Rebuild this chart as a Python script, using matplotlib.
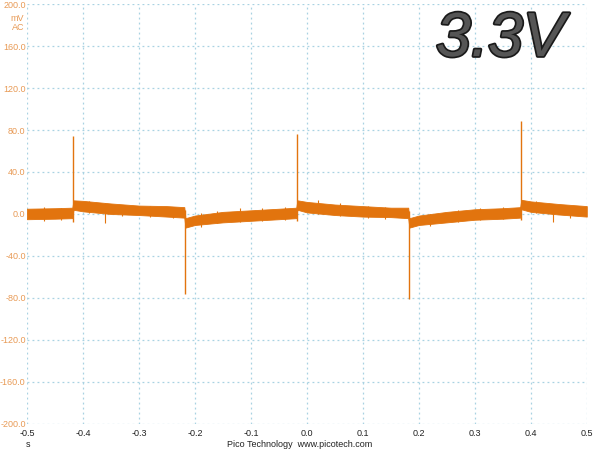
import matplotlib
matplotlib.use("Agg")
from matplotlib import pyplot as plt
import matplotlib.patheffects as pe
import numpy as np

plt.rcParams["font.family"] = ["Liberation Sans", "DejaVu Sans"]

# trace: slow level (mV) at key times (s)
level_t = [-0.500, -0.450, -0.419, -0.417, -0.400, -0.350, -0.300, -0.250, -0.219,
           -0.217, -0.200, -0.150, -0.100, -0.050, -0.019, -0.017, 0.000, 0.050,
           0.100, 0.150, 0.181, 0.183, 0.200, 0.250, 0.300, 0.350, 0.381, 0.383,
           0.400, 0.450, 0.500]
level_mv = [0.0, 0.5, 1.0, 8.5, 7.5, 5.0, 3.5, 2.5, 1.5,
            -8.5, -6.0, -3.0, -1.5, 0.0, 1.0, 8.5, 6.5, 4.0,
            2.5, 1.5, 1.0, -8.5, -6.0, -3.0, -0.5, 0.5, 1.5, 9.0,
            7.0, 4.5, 2.5]
band_mv = [5.0, 5.0, 5.0, 4.5, 5.0, 5.0, 4.5, 5.0, 5.0,
           4.5, 4.5, 5.0, 5.0, 5.0, 5.0, 4.5, 5.0, 5.0,
           5.0, 4.5, 5.0, 4.5, 4.5, 5.0, 5.0, 5.0, 5.0, 4.5,
           5.0, 5.0, 5.0]

# switching spikes
spike_t = [-0.418, -0.218, -0.018, 0.182, 0.382]
spike_hi = [74, 4, 76, 3, 89]
spike_lo = [-8, -76, -7, -81, -6]

# larger noise excursions (time, low, high)
burst_t = [-0.47, -0.44, -0.39, -0.36, -0.33, -0.28, -0.24, -0.19, -0.16, -0.12,
           -0.08, -0.04, 0.02, 0.06, 0.11, 0.14, 0.22, 0.27, 0.31, 0.35, 0.41, 0.44, 0.47]
burst_lo = [-7, -6, 1, -9, -2, -3, -4, -12, -9, -8,
            -7, -6, 0, -2, -4, -5, -11, -8, -6, -5, 1, -8, -4]
burst_hi = [7, 6, 12, 10, 9, 8, 7, 1, 3, 6,
            6, 7, 13, 10, 8, 7, 0, 4, 6, 7, 12, 9, 8]

x_ticks = [-0.5, -0.4, -0.3, -0.2, -0.1, 0.0, 0.1, 0.2, 0.3, 0.4, 0.5]
y_ticks = [-200, -160, -120, -80, -40, 0, 40, 80, 120, 160, 200]

trace_c = "#E2740E"
label_c = "#E89A55"
grid_c = "#A9D2E2"

fig = plt.figure(figsize=(6, 4.5), dpi=100, facecolor="white")
ax = fig.add_axes([0.045, 0.058, 0.933, 0.933])

lv = np.array(level_mv)
bw = np.array(band_mv)
ax.fill_between(level_t, lv - bw, lv + bw, color=trace_c, lw=0.6, zorder=3)
ax.vlines(burst_t, burst_lo, burst_hi, color=trace_c, lw=0.8, zorder=3)
ax.vlines(spike_t, spike_lo, spike_hi, color=trace_c, lw=1.0, zorder=3)

ax.set_xlim(-0.5, 0.5)
ax.set_ylim(-200, 200)
ax.set_xticks(x_ticks)
ax.set_yticks(y_ticks)
ax.set_xticklabels(["%.1f" % v for v in x_ticks], fontsize=6.5, color="#222222")
ax.set_yticklabels(["%.1f" % v for v in y_ticks], fontsize=6.5, color=label_c)
ax.tick_params(axis="y", length=0, pad=1)
ax.tick_params(axis="x", length=0, pad=4)
for s in ax.spines.values():
    s.set_visible(False)
ax.grid(True, color=grid_c, ls=(0, (1.5, 2.5)), lw=0.9)

fig.text(0.040, 0.968, "mV\nAC", ha="right", va="top", fontsize=6.5, color=label_c,
         linespacing=1.0)
fig.text(0.047, 0.003, "s", ha="center", va="bottom", fontsize=6.5, color="#222222")
fig.text(0.5, 0.003, "Pico Technology  www.picotech.com", ha="center", va="bottom",
         fontsize=6.5, color="#222222")

fig.text(0.834, 0.912, "3.3V", ha="center", va="center", fontsize=45, style="italic",
         color="#555555",
         path_effects=[pe.withStroke(linewidth=2.5, foreground="#1a1a1a")])

fig.savefig("out.png", dpi=100, facecolor="white")
